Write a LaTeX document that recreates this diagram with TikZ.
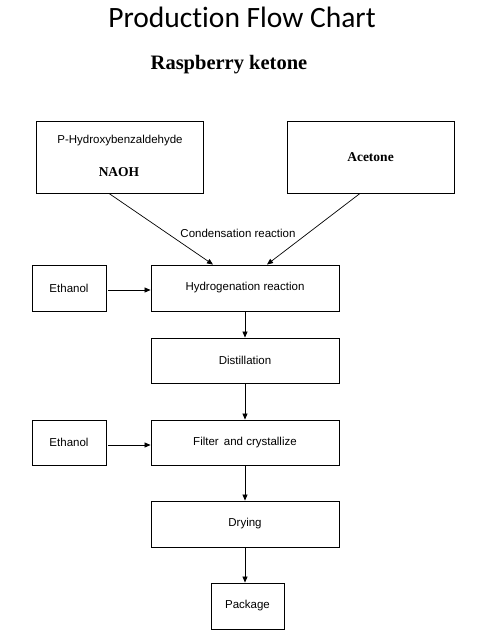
\documentclass[tikz,border=0pt]{standalone}
\usepackage{fontspec}
\setmainfont{Liberation Sans}
\newfontfamily\titlefont{Carlito}[Ligatures={NoCommon}]
\newfontfamily\serifbf{Liberation Serif}[BoldFont={Liberation Serif Bold}]
\usetikzlibrary{arrows.meta,calc}
\begin{document}
\begin{tikzpicture}[x=1pt,y=-1pt,
  box/.style={draw,line width=0.9pt,inner sep=0pt,font=\fontsize{11.5}{13}\selectfont},
  lbl/.style={inner sep=0pt,font=\fontsize{11.5}{13}\selectfont},
  arr/.style={line width=0.7pt,-{Triangle[length=6pt,width=5pt]}}]
\useasboundingbox (0,0) rectangle (487,635);
\node[anchor=base,inner sep=0pt,font=\titlefont\fontsize{29.5}{32}\selectfont] (title) at (242,27) {Production Flow Chart};
\node[anchor=base,inner sep=0pt,font=\serifbf\bfseries\fontsize{20.5}{24}\selectfont] (sub) at (229,69) {Raspberry ketone};
\node[box,minimum width=167,minimum height=72] (b1) at (119.5,157) {};
\node[lbl] (phb) at (120,141) {P-Hydroxybenzaldehyde};
\node[lbl,font=\serifbf\bfseries\fontsize{13.5}{15}\selectfont] (naoh) at (119,172) {NAOH};
\node[box,minimum width=167,minimum height=72,font=\serifbf\bfseries\fontsize{13.5}{15}\selectfont] (b2) at (370.5,157) {Acetone};
\node[box,minimum width=188,minimum height=46] (hyd) at (245,288) {Hydrogenation reaction};
\node[box,minimum width=74,minimum height=46] (e1) at (69,288) {Ethanol};
\node[box,minimum width=188,minimum height=45] (dis) at (245,360.5) {Distillation};
\node[box,minimum width=188,minimum height=45] (fil) at (245,442.5) {Filter\, and crystallize};
\node[box,minimum width=74,minimum height=45] (e2) at (69,442.5) {Ethanol};
\node[box,minimum width=188,minimum height=46] (dry) at (245,524) {Drying};
\node[box,minimum width=73,minimum height=46] (pkg) at (247.5,606) {Package};
\node[lbl] (cond) at (238,233) {Condensation reaction};
\draw[arr] ($(b1.south)+(-10.5,0)$) -- ($(hyd.north)+(-32,0)$);
\draw[arr] ($(b2.south)+(-10.5,0)$) -- ($(hyd.north)+(22,0)$);
\draw[arr] ($(e1.east)+(2,2)$) -- ($(hyd.west)+(0,2)$);
\draw[arr] ($(e2.east)+(2,2.5)$) -- ($(fil.west)+(0,2.5)$);
\draw[arr] (hyd.south) -- (dis.north);
\draw[arr] (dis.south) -- (fil.north);
\draw[arr] (fil.south) -- (dry.north);
\draw[arr] (dry.south) -- (dry.south |- pkg.north);
\end{tikzpicture}
\end{document}
